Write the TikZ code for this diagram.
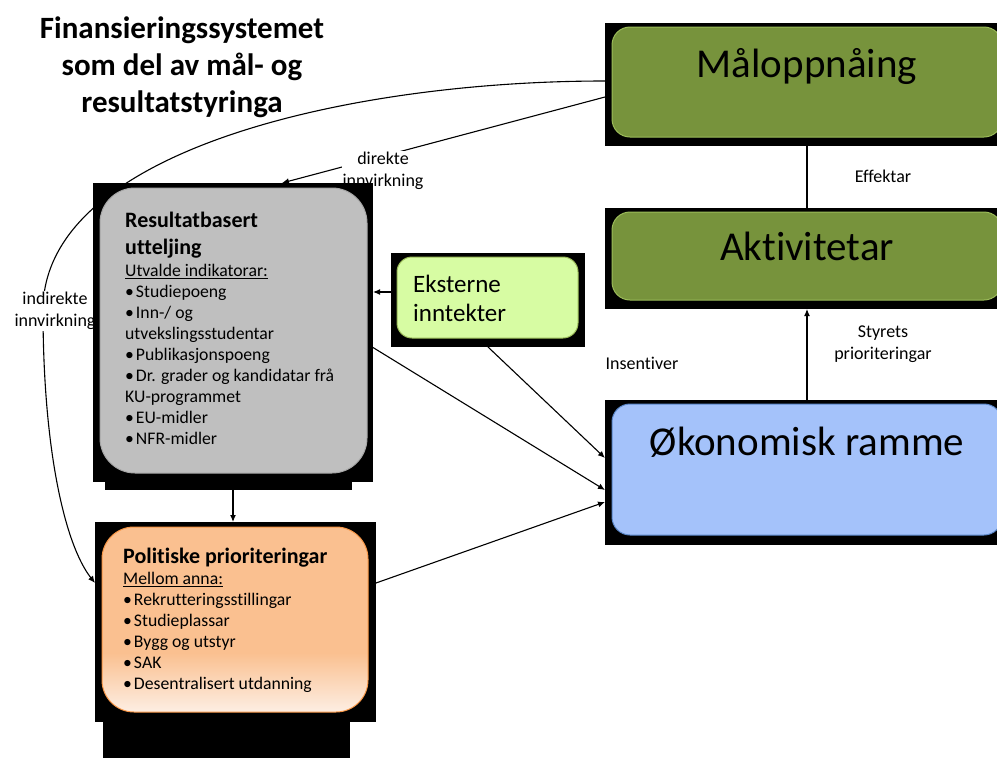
\documentclass[tikz,border=0pt]{standalone}
\usepackage{fontspec}
\setmainfont{Carlito}[Ligatures=NoCommon]
\usetikzlibrary{backgrounds,arrows.meta}

\definecolor{olivefill}{HTML}{77933C}
\definecolor{oliveline}{HTML}{9BBB59}
\definecolor{greyfill}{HTML}{BFBFBF}
\definecolor{greyline}{HTML}{A6A6A6}
\definecolor{limefill}{HTML}{D7FCA3}
\definecolor{bluefill}{HTML}{A4C2FA}
\definecolor{blueline}{HTML}{5B87C8}
\definecolor{peachfill}{HTML}{FAC090}
\definecolor{peachfade}{HTML}{FDEEE3}
\definecolor{peachline}{HTML}{F79646}
\pgfdeclareverticalshading{peachshade}{100bp}{color(0bp)=(peachfade); color(25bp)=(peachfade); color(41bp)=(peachfill); color(100bp)=(peachfill)}
\newcommand{\itm}{•\kern2pt}

\begin{document}
\begin{tikzpicture}[x=1pt,y=-1pt,>={Latex[length=7pt,width=6pt]}]
        \tikzstyle{backdrop}=[fill=black, inner sep=0pt, outer sep=0pt]
        \tikzstyle{card}=[inner sep=0pt, line width=1pt]
        \tikzstyle{big}=[font=\fontsize{41}{49}\selectfont, anchor=base]
        \tikzstyle{note}=[font=\fontsize{18}{22}\selectfont, align=center, inner sep=1pt]
        \tikzstyle{head}=[font=\bfseries\fontsize{22}{27}\selectfont, align=left, anchor=north west, inner sep=0pt]
        \tikzstyle{body}=[font=\fontsize{17.7}{21}\selectfont, align=left, anchor=north west, inner sep=0pt]
        \tikzstyle{link}=[line width=1.1pt]
        \useasboundingbox (0,0) rectangle (997,758);

        \node[font=\bfseries\fontsize{31}{37}\selectfont, align=center] (title) at (182,67.5)
            {Finansieringssystemet\\som del av mål- og\\resultatstyringa};

        % right column
        \node[backdrop, minimum width=404pt, minimum height=123pt] (maal) at (807,84.5) {};
        \node[card, rounded corners=18pt, fill=olivefill, draw=oliveline, minimum width=390pt, minimum height=110pt] (maalbox) at (807,82) {};
        \node[big] (maaltext) at (807,77) {Måloppnåing};

        \node[backdrop, minimum width=404pt, minimum height=101pt] (akt) at (807,258.5) {};
        \node[card, rounded corners=18pt, fill=olivefill, draw=oliveline, minimum width=390pt, minimum height=88pt] (aktbox) at (807,256) {};
        \node[big] (akttext) at (807,260) {Aktivitetar};

        \node[backdrop, minimum width=404pt, minimum height=145pt] (oko) at (807,472.5) {};
        \node[card, rounded corners=18pt, fill=bluefill, draw=blueline, minimum width=390pt, minimum height=131pt] (okobox) at (807,469.5) {};
        \node[big] (okotext) at (807,455) {Økonomisk ramme};

        % left column
        \node[backdrop, minimum width=194pt, minimum height=94pt] (eks) at (488,300) {};
        \node[card, rounded corners=15pt, fill=limefill, draw=oliveline, minimum width=181pt, minimum height=81pt] (eksbox) at (487.5,297.5) {};
        \node[font=\fontsize{25}{29.5}\selectfont, align=left, anchor=north west, inner sep=0pt] (ekstext) at (413,274.5) {Eksterne\\inntekter};

        \node[backdrop, minimum width=280pt, minimum height=299pt] (res) at (233,332.5) {};
        \node[backdrop, minimum width=247pt, minimum height=10pt] (resfoot) at (228.5,485) {};
        \node[card, rounded corners=35pt, fill=greyfill, draw=greyline, minimum width=267pt, minimum height=285pt] (resbox) at (233.5,330.5) {};
        \node[head] (reshead) at (125,211.6) {Resultatbasert\\utteljing};
        \node[body] (reslist) at (125,263.9) {\underline{Utvalde indikatorar:}\\\itm Studiepoeng\\\itm Inn-/ og\\utvekslingsstudentar\\\itm Publikasjonspoeng\\\itm Dr. grader og kandidatar frå\\KU-programmet\\\itm EU-midler\\\itm NFR-midler};

        \node[backdrop, minimum width=281pt, minimum height=200pt] (pol) at (235.5,622) {};
        \node[backdrop, minimum width=247pt, minimum height=40pt] (polfoot) at (226.5,740) {};
        \node[card, rounded corners=32pt, shading=peachshade, draw=peachline, minimum width=266pt, minimum height=185pt] (polbox) at (235,619.5) {};
        \node[head] (polhead) at (123,547.6) {Politiske prioriteringar};
        \node[body] (pollist) at (123,571.9) {\underline{Mellom anna:}\\\itm Rekrutteringsstillingar\\\itm Studieplassar\\\itm Bygg og utstyr\\\itm SAK\\\itm Desentralisert utdanning};

        \begin{scope}[on background layer]
            \fill[white] (0,0) rectangle (997,758);
            \draw[link] (maal.south) -- (akt.north);
            \node[note] (effekt) at (883,176) {Effektar};
            \draw[link,->] (oko.north) -- (akt.south);
            \node[note] (styre) at (883,344) {Styrets\\prioriteringar};
            \node[note] (insentiv) at (642,363) {Insentiver};
            \draw[link,->] ([yshift=8pt]eks.west) -- ([yshift=8pt]eks.west -| res.east);
            \draw[link,->] (eks.south) -- ([yshift=14.5pt]oko.west);
            \draw[link,->] ([yshift=-15pt]res.east) -- ([yshift=-17.5pt]oko.west);
            \draw[link,->] ([yshift=39pt]pol.east) -- ([yshift=-29.5pt]oko.west);
            \draw[link,->] (res.south) -- (res.south |- pol.north);
            \draw[link,->] ([yshift=-12.5pt]maal.west) -- ([xshift=49pt]res.north);
            \node[note, fill=white] (direkte) at (383,171) {direkte\\innvirkning};
            \draw[link,->] ([yshift=3.5pt]maal.west) .. controls (350,81) and (43,150) .. (43,310)
                .. controls (43,450) and (65,545) .. ([yshift=39pt]pol.west);
            \node[note, fill=white] (indirekte) at (55,311) {indirekte\\innvirkning};
        \end{scope}
\end{tikzpicture}
\end{document}
